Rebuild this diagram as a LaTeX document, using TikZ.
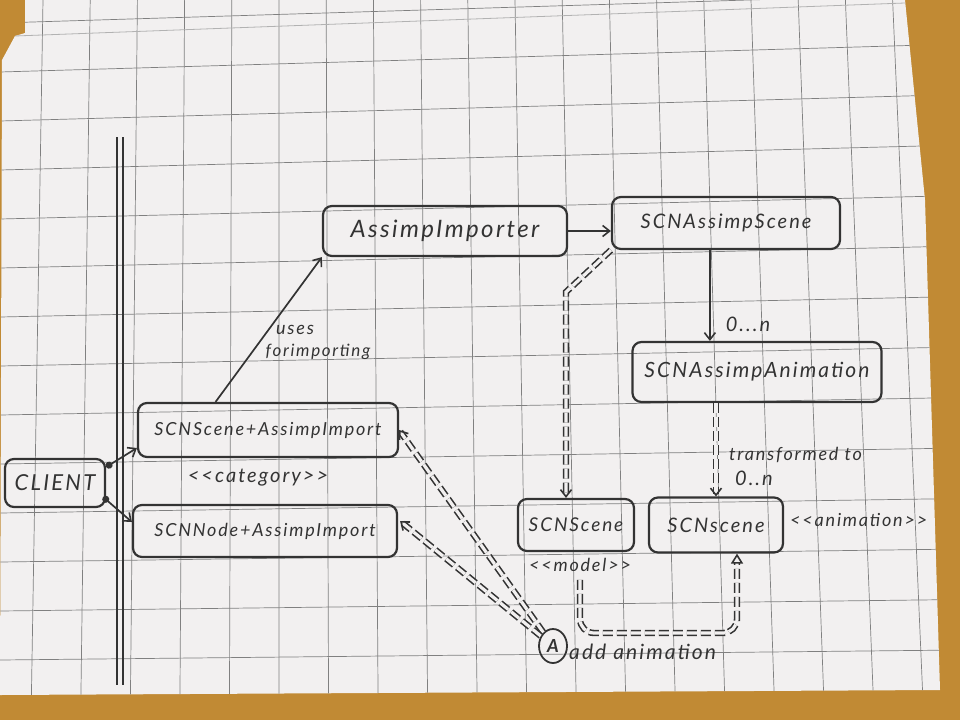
\documentclass[tikz,border=0pt]{standalone}
\usepackage{fontspec}
\newfontfamily\hand[LetterSpace=10]{Lato}
\usetikzlibrary{arrows.meta,calc,shapes.geometric}
\definecolor{ink}{HTML}{333333}
\definecolor{desk}{HTML}{C18A34}
\definecolor{paper}{HTML}{F2F0F0}
\definecolor{gridc}{HTML}{808080}
\newcommand\fsz[1]{\fontsize{#1}{#1}\selectfont}
\begin{document}
\begin{tikzpicture}[x=1pt,y=-1pt,
  box/.style={draw=ink, line width=2.2pt, rounded corners=9pt, inner sep=0pt, text=ink, font=\hand\itshape\fsz{#1}},
  lbl/.style={text=ink, inner sep=0pt, font=\hand\itshape\fsz{#1}},
  tip/.style={-{Straight Barb[length=7pt,width=11pt,line width=1.6pt]}},
  conn/.style={draw=ink, line width=1.7pt, tip},
  ddash/.style={draw=ink, line width=1.6pt, double=paper, double distance=3.2pt, dash pattern=on 10pt off 4pt},
 ]
\useasboundingbox (0,0) rectangle (960,720);
% desk and paper
\fill[desk] (0,0) rectangle (960,720);
\fill[paper] (25,0) -- (905,0) -- (925,200) -- (940,690) -- (0,695) -- (2,60) -- (15,36) -- (25,33) -- cycle;
\begin{scope}
  \clip (25,0) -- (905,0) -- (925,200) -- (940,690) -- (0,695) -- (2,60) -- (15,36) -- (25,33) -- cycle;
  \foreach \k in {0,...,19} \draw[gridc, line width=0.7pt] ({43+47.2*\k},0) -- ({31+49.6*\k},720);
  \foreach \k in {-1,...,13} \draw[gridc, line width=0.7pt] (0,{72+49*\k}) -- (960,{44+50.5*\k});
  \draw[gray!60, line width=0.8pt] (15,36) -- (905,3);
\end{scope}
% swimlane
\draw[ink, line width=1.8pt] (117,137) -- (117,685);
\draw[ink, line width=1.8pt] (123,137) -- (123,685);
% nodes
\node[box=22, minimum width=100pt, minimum height=48pt] (client) at (55,483) {CLIENT};
\node[box=18, minimum width=260pt, minimum height=54pt] (sai) at (268,430) {SCNScene+AssimpImport};
\node[box=18, minimum width=264pt, minimum height=52pt] (sni) at (265,531) {SCNNode+AssimpImport};
\node[box=24, minimum width=244pt, minimum height=50pt] (imp) at (445,231) {AssimpImporter};
\node[box=20, minimum width=228pt, minimum height=52pt] (sas) at (726,223) {SCNAssimpScene};
\node[box=21, minimum width=249pt, minimum height=60pt] (saa) at (757,372) {SCNAssimpAnimation};
\node[box=19, minimum width=116pt, minimum height=52pt] (model) at (576,525) {SCNScene};
\node[box=20, minimum width=134pt, minimum height=55pt] (anim) at (716,525) {SCNscene};
\node[ellipse, draw=ink, line width=1.8pt, minimum width=28pt, minimum height=34pt, inner sep=0pt, text=ink, font=\hand\itshape\bfseries\fsz{18}] (circ) at (553,646) {A};
% labels
\node[lbl=20] (cat) at (258,478) {<{}<category>{}>};
\node[lbl=18] (modellbl) at (580,565) {<{}<model>{}>};
\node[lbl=18, anchor=west] (animlbl) at (790,520) {<{}<animation>{}>};
\node[lbl=21, anchor=west] (addanim) at (569,652) {add animation};
\node[lbl=18] (uses) at (295,330) {uses};
\node[lbl=17] (forimp) at (318,352) {forimporting};
\node[lbl=20] (on1) at (748,324) {0...n};
\node[lbl=18, anchor=west] (tr) at (729,455) {transformed to};
\node[lbl=20, anchor=west] (on2) at (735,478) {0..n};
% connectors
\draw[conn, {Circle[length=7pt]}-{Straight Barb[length=7pt,width=11pt,line width=1.6pt]}] ($(client.east)+(0,-16)$) -- ($(sai.west)+(0,18)$);
\draw[conn, {Circle[length=7pt]}-{Straight Barb[length=7pt,width=11pt,line width=1.6pt]}] ($(client.east)+(-3,14)$) -- ($(sni.west)+(0,-9)$);
\draw[conn] ($(sai.north west)!0.3!(sai.north east)$) -- (imp.south west);
\draw[conn] (imp.east) -- (imp.east -| sas.west);
\coordinate (s1) at ($(sas.south west)!0.43!(sas.south east)$);
\draw[conn] (s1) -- (s1 |- saa.north);
\draw[ddash, tip] (saa.south -| anim.north) -- (anim.north);
\coordinate (bend) at (566,292);
\draw[ddash, tip] (sas.south west) -- (bend) -- (bend |- model.north);
\draw[ddash, tip] (circ) -- (sai.east);
\draw[ddash, tip] (circ) -- ($(sni.east)+(2,-10)$);
\coordinate (m2) at (737,633);
\draw[ddash, rounded corners=14pt, shorten <=8pt, -{Triangle[open,length=10pt,width=12pt,line width=1.6pt]}] (modellbl.south) |- (m2) -- (m2 |- anim.south);
\end{tikzpicture}
\end{document}
